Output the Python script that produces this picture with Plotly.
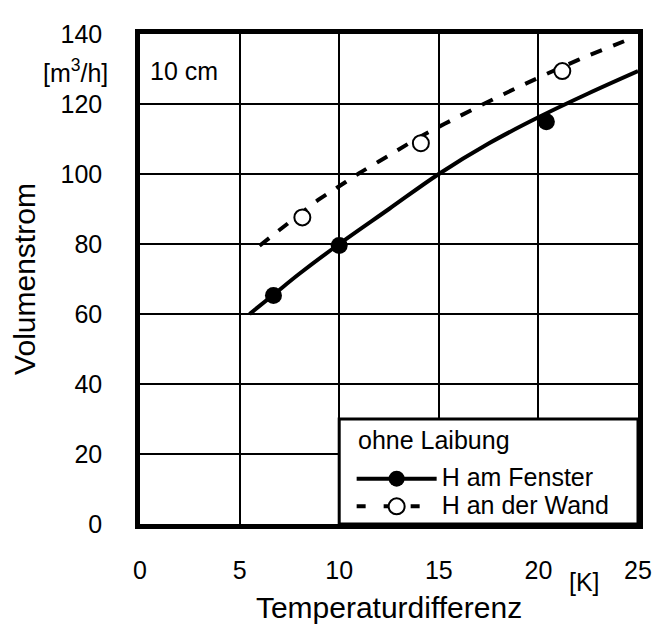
import plotly.graph_objects as go

# measured points
fenster_x = [6.7, 10.0, 20.4]
fenster_y = [65.3, 79.6, 114.9]
wand_x = [8.15, 14.1, 21.2]
wand_y = [87.6, 108.8, 129.4]

# fitted curves
fenster_fit_x = [5.5, 6.7, 8, 10, 12.5, 15, 17.5, 20, 22.5, 25]
fenster_fit_y = [60, 65.5, 71.5, 80, 90, 100, 108.7, 116.2, 123, 129.4]
wand_fit_x = [6.0, 7.0, 8.0, 9.0, 10.0, 11.0, 12.5, 14.0, 16.0, 18.0, 20.0, 22.0, 24.6]
wand_fit_y = [79.5, 84, 88.4, 92.8, 96.5, 100.2, 105.3, 110.4, 116.4, 122.1, 127.5, 132.6, 138.6]

x_ticks = [0, 5, 10, 15, 20, 25]
y_ticks = [0, 20, 40, 60, 80, 100, 120, 140]

FONT = "Liberation Sans, Arial, sans-serif"
FS = 25

fig = go.Figure()

fig.add_trace(go.Scatter(x=fenster_fit_x, y=fenster_fit_y, mode="lines",
                         line=dict(color="black", width=4, shape="spline"),
                         showlegend=False, hoverinfo="skip"))
fig.add_trace(go.Scatter(x=wand_fit_x, y=wand_fit_y, mode="lines",
                         line=dict(color="black", width=4, shape="spline", dash="12px,12px"),
                         showlegend=False, hoverinfo="skip"))
fig.add_trace(go.Scatter(x=fenster_x, y=fenster_y, mode="markers",
                         marker=dict(color="black", size=17),
                         showlegend=False))
fig.add_trace(go.Scatter(x=wand_x, y=wand_y, mode="markers",
                         marker=dict(color="white", size=16, line=dict(color="black", width=2)),
                         showlegend=False))

# legend entries (line + marker combined); small legend font keeps the rows tight
fig.add_trace(go.Scatter(x=[None], y=[None], mode="lines+markers",
                         name='<span style="font-size:25px">H am Fenster</span>',
                         line=dict(color="black", width=4),
                         marker=dict(color="black", size=17)))
fig.add_trace(go.Scatter(x=[None], y=[None], mode="lines+markers",
                         name='<span style="font-size:25px">H an der Wand</span>',
                         line=dict(color="black", width=4, dash="9px,18px"),
                         marker=dict(color="white", size=16, line=dict(color="black", width=2))))

# white legend box in the lower right corner
fig.add_shape(type="rect", xref="x", yref="y", x0=10, x1=25, y0=0, y1=30,
              fillcolor="white", line=dict(color="black", width=3), layer="above")

fig.add_annotation(x=10.85, y=24.1, xref="x", yref="y", text="ohne Laibung", showarrow=False,
                   xanchor="left", yanchor="middle", font=dict(size=FS, color="black", family=FONT))
fig.add_annotation(x=0.4, y=129.3, xref="x", yref="y", text="10 cm", showarrow=False,
                   xanchor="left", yanchor="middle", font=dict(size=FS, color="black", family=FONT))
fig.add_annotation(x=-0.06, y=129.3, xref="paper", yref="y", text="[m<sup>3</sup>/h]",
                   showarrow=False, xanchor="right", yanchor="middle",
                   font=dict(size=FS, color="black", family=FONT))
fig.add_annotation(x=22.3, y=-0.118, xref="x", yref="paper", text="[K]", showarrow=False,
                   xanchor="center", yanchor="middle", font=dict(size=FS, color="black", family=FONT))

fig.update_xaxes(range=[0, 25], tickvals=x_ticks, showgrid=True, gridcolor="black", gridwidth=2,
                 zeroline=False, showline=True, linecolor="black", linewidth=4.5, mirror=True,
                 ticks="", ticklabelstandoff=20,
                 title=dict(text="Temperaturdifferenz", standoff=16),
                 tickfont=dict(size=FS, color="black", family=FONT))
fig.update_yaxes(range=[0, 140], tickvals=y_ticks, showgrid=True, gridcolor="black", gridwidth=2,
                 zeroline=False, showline=True, linecolor="black", linewidth=4.5, mirror=True,
                 ticks="", ticklabelstandoff=28,
                 title=dict(text="Volumenstrom", standoff=20),
                 tickfont=dict(size=FS, color="black", family=FONT))

# the page body adds an 8px margin, so the figure is 8px smaller and the margins shifted
fig.update_layout(
    width=656, height=625,
    margin=dict(l=122, r=21, t=15, b=99),
    paper_bgcolor="white", plot_bgcolor="white",
    font=dict(family=FONT, size=FS, color="black"),
    legend=dict(x=0.425, y=0.131, xanchor="left", yanchor="top",
                bgcolor="rgba(0,0,0,0)", borderwidth=0, itemwidth=80,
                font=dict(size=19, color="black", family=FONT),
                tracegroupgap=0),
)

fig.write_html("out.html")
